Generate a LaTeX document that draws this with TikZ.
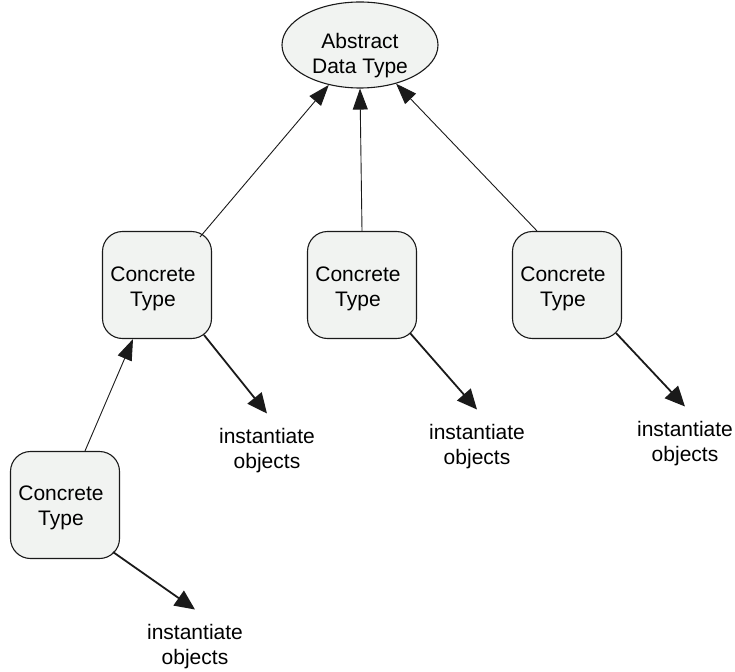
\documentclass[tikz,border=0pt]{standalone}
\usepackage{fontspec}
\setmainfont{Liberation Sans}
\usetikzlibrary{shapes.geometric,arrows.meta}
\definecolor{boxfill}{HTML}{F1F3F1}
\definecolor{linecol}{HTML}{1A1A1A}
\newcommand\offsettext[3]{\raisebox{#2}[\height][\depth]{\makebox[0pt]{\hspace*{#1}\begin{tabular}{@{}c@{}}#3\end{tabular}}}}
\begin{document}
\begin{tikzpicture}[x=1pt,y=-1pt,
  ctype/.style={draw=linecol,line width=1.1pt,fill=boxfill,rounded corners=20pt,
    minimum width=109pt,minimum height=107pt,inner sep=0pt,align=center,
    font=\fontsize{21}{25}\selectfont},
  adtnode/.style={ellipse,draw=linecol,line width=1.1pt,fill=boxfill,
    minimum width=156pt,minimum height=86pt,inner sep=0pt,align=center,
    font=\fontsize{21}{25}\selectfont},
  lbl/.style={align=center,inner sep=15pt,font=\fontsize{21}{25}\selectfont},
  up/.style={draw=linecol,line width=0.9pt,-{Triangle[length=21pt,width=15pt]}},
  inst/.style={draw=linecol,line width=1.8pt,-{Triangle[length=20pt,width=18pt]}}]
\useasboundingbox (0,0) rectangle (735,671);
\node[adtnode] (adt) at (360,45) {\offsettext{0pt}{-11pt}{Abstract\\Data Type}};
\node[ctype] (b1) at (157,285) {\offsettext{-8pt}{-4pt}{Concrete\\Type}};
\node[ctype] (b2) at (362,285) {\offsettext{-8pt}{-4pt}{Concrete\\Type}};
\node[ctype] (b3) at (567,285) {\offsettext{-8pt}{-4pt}{Concrete\\Type}};
\node[ctype] (b4) at (65,505) {\offsettext{-8pt}{-3pt}{Concrete\\Type}};
\node[lbl] (l1) at (267,451) {instantiate\\objects};
\node[lbl] (l2) at (477,447) {instantiate\\objects};
\node[lbl] (l3) at (685,444) {instantiate\\objects};
\node[lbl] (l4) at (195,647) {instantiate\\objects};
\draw[up] ([shift={(43,-48)}]b1.center) -- (adt.232);
\draw[up] (b2.north) -- (adt.south);
\draw[up] ([xshift=-30pt]b3.north) -- (adt.-47);
\draw[up] ([xshift=20pt]b4.north) -- ([xshift=-24pt]b1.south);
\draw[inst] ([shift={(47,50)}]b1.center) -- (l1.north);
\draw[inst] ([shift={(48,48)}]b2.center) -- (l2.north);
\draw[inst] ([shift={(49,48)}]b3.center) -- (l3.north);
\draw[inst] ([shift={(48,47)}]b4.center) -- (l4.north);
\end{tikzpicture}
\end{document}
